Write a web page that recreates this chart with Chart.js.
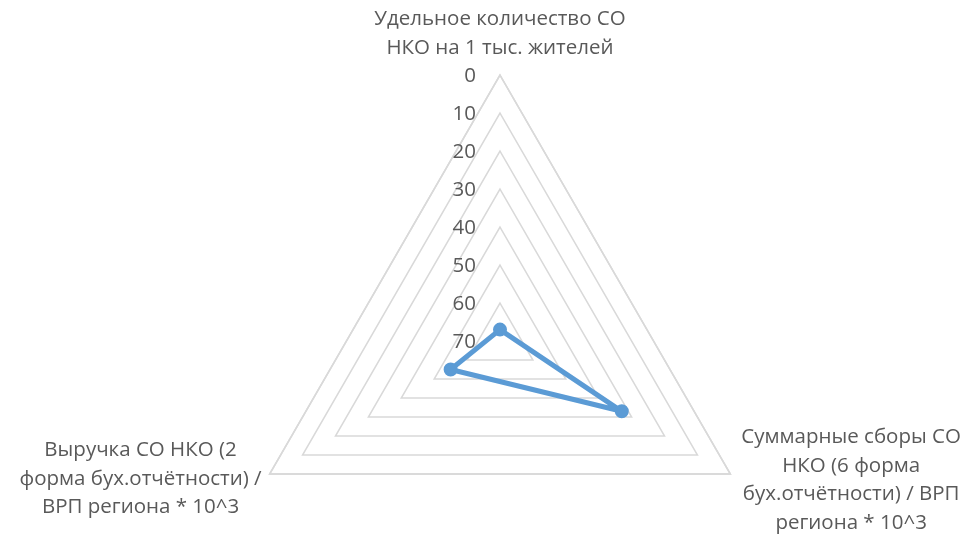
<!DOCTYPE html>
<html>
<head>
<meta charset="utf-8">
<script src="https://cdn.jsdelivr.net/npm/chart.js@4.4.1/dist/chart.umd.min.js"></script>
<style>
  html, body { margin: 0; padding: 0; background: #fff; }
  #wrap { width: 968px; height: 536px; }
</style>
</head>
<body>
<div id="wrap"><canvas id="radar"></canvas></div>
<script>
// Axis labels (multi-line, as in the original)
const axisLabels = [
  ['Удельное количество СО', 'НКО на 1 тыс. жителей'],
  ['Суммарные сборы СО', 'НКО (6 форма', 'бух.отчётности) / ВРП', 'региона * 10^3'],
  ['Выручка СО НКО (2', 'форма бух.отчётности) /', 'ВРП региона * 10^3']
];

// Series values
const seriesValues = [67, 33, 55];

// Scale: reversed, 0 on the outer ring, 70 in the centre
const scaleMin = 0;
const scaleMax = 70;
const scaleStep = 10;

const TEXT_COLOR = '#595959';
const GRID_COLOR = '#d9d9d9';
const LINE_COLOR = '#5b9bd5';
const FONT = '20.5px "Open Sans", sans-serif';
const LINE_H = 28.5;

// Draws the outer ring (Chart.js skips tick 0), the tick labels left of the
// vertical axis and the centred multi-line axis labels
const excelLabels = {
  id: 'excelLabels',
  beforeDatasetsDraw(chart) {
    const scale = chart.scales.r;
    const ctx = chart.ctx;
    const outer = scale.getDistanceFromCenterForValue(scaleMin);
    ctx.save();
    ctx.strokeStyle = GRID_COLOR;
    ctx.lineWidth = 1.5;
    ctx.beginPath();
    for (let i = 0; i < axisLabels.length; i++) {
      const p = scale.getPointPosition(i, outer);
      if (i === 0) ctx.moveTo(p.x, p.y); else ctx.lineTo(p.x, p.y);
    }
    ctx.closePath();
    ctx.stroke();
    ctx.restore();
  },
  afterDraw(chart) {
    const scale = chart.scales.r;
    const ctx = chart.ctx;
    ctx.save();
    ctx.font = FONT;
    ctx.fillStyle = TEXT_COLOR;
    ctx.textBaseline = 'middle';

    // tick labels
    ctx.textAlign = 'right';
    scale.ticks.forEach(t => {
      const d = scale.getDistanceFromCenterForValue(t.value);
      const p = scale.getPointPosition(0, d);
      ctx.fillText(String(t.value), p.x - 24, p.y + 1);
    });

    // axis labels
    ctx.textAlign = 'center';
    const outer = scale.getDistanceFromCenterForValue(scaleMin);
    axisLabels.forEach((lines, i) => {
      const p = scale.getPointPosition(i, outer);
      const w = Math.max(...lines.map(l => ctx.measureText(l).width));
      let cx, top;
      if (i === 0) {
        cx = p.x;
        top = p.y - 27 - (lines.length - 1) * LINE_H;
      } else if (i === 1) {
        cx = p.x + 11 + w / 2;
        top = p.y + 6 - (lines.length - 1) * LINE_H / 2;
      } else {
        cx = p.x - 8 - w / 2;
        top = p.y + 5 - (lines.length - 1) * LINE_H / 2;
      }
      lines.forEach((l, k) => ctx.fillText(l, cx, top + k * LINE_H));
    });
    ctx.restore();
  }
};

new Chart(document.getElementById('radar'), {
  type: 'radar',
  data: {
    labels: axisLabels,
    datasets: [{
      data: seriesValues,
      borderColor: LINE_COLOR,
      backgroundColor: LINE_COLOR,
      borderWidth: 5,
      borderJoinStyle: 'round',
      pointRadius: 6,
      pointBorderWidth: 2,
      pointBackgroundColor: LINE_COLOR,
      pointBorderColor: LINE_COLOR,
      fill: false
    }]
  },
  options: {
    responsive: true,
    maintainAspectRatio: false,
    animation: false,
    plugins: {
      legend: { display: false },
      tooltip: { enabled: false }
    },
    scales: {
      r: {
        min: scaleMin,
        max: scaleMax,
        reverse: true,
        ticks: { stepSize: scaleStep, display: false },
        pointLabels: { display: false },
        angleLines: { display: false },
        grid: { color: GRID_COLOR, lineWidth: 1.5 },
        afterFit(scale) {
          scale.xCenter = 500;
          scale.yCenter = 341;
          scale.drawingArea = 266;
        }
      }
    }
  },
  plugins: [excelLabels]
});
</script>
</body>
</html>
